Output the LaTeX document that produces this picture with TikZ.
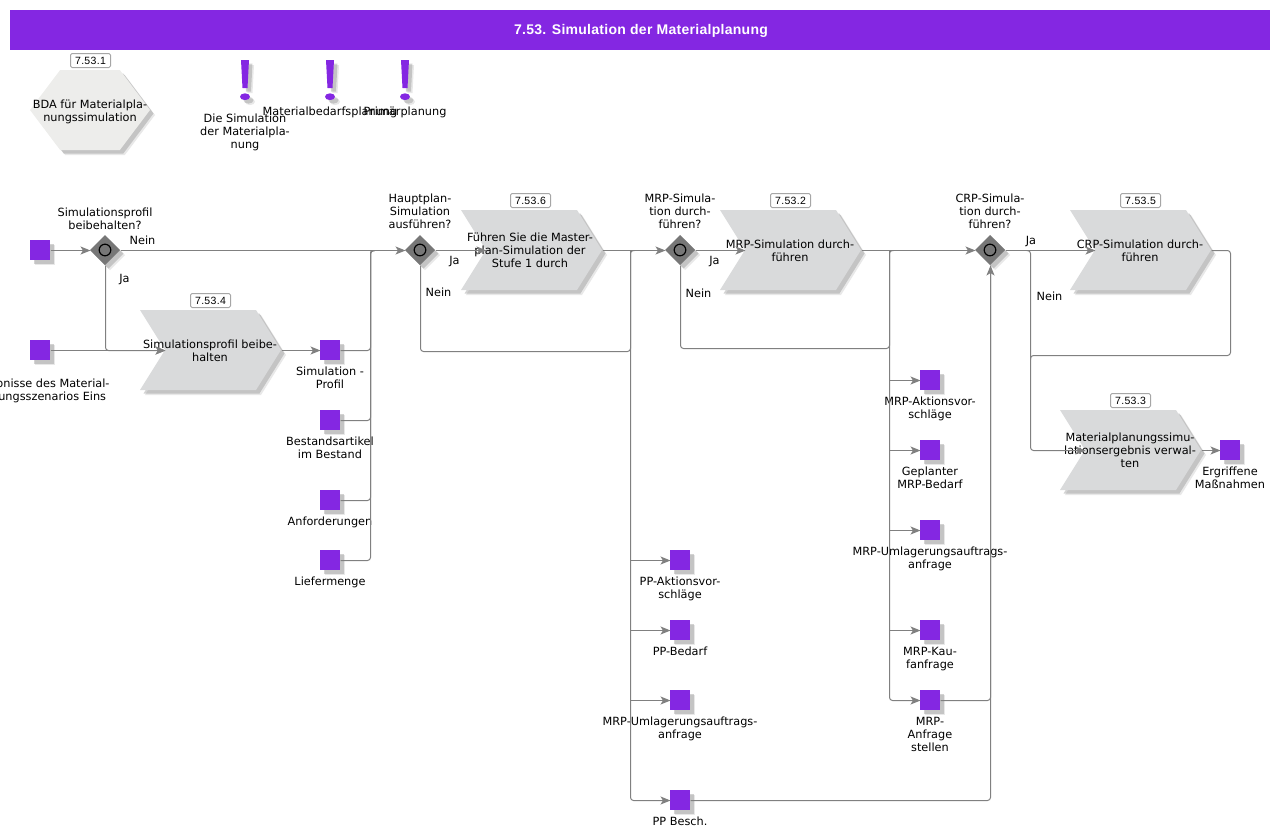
\documentclass[tikz,border=0pt]{standalone}
\usepackage{fontspec}
\setmainfont{DejaVu Sans}
\newfontfamily\tagfont[LetterSpace=3]{Liberation Sans}
\newfontfamily\titlefont[LetterSpace=2]{Liberation Sans}
\usepackage{xcolor}
\usetikzlibrary{arrows.meta,shapes.geometric,shapes.symbols,shadows}
\definecolor{lila}{HTML}{8427E2}
\definecolor{funcgray}{HTML}{D9DADB}
\definecolor{hexgray}{HTML}{EDEDEB}
\definecolor{gategray}{HTML}{777777}
\definecolor{wiregray}{HTML}{808080}
\tikzset{%
  tipA/.tip={Stealth[length=10pt,width=8pt,inset=2.5pt]},
  shad/.style={drop shadow={shadow xshift=5pt,shadow yshift=-5pt,fill=gray,opacity=.18},drop shadow={shadow xshift=3.5pt,shadow yshift=-3.5pt,fill=gray,opacity=.35}},
  txt/.style={font=\fontsize{11.3pt}{13pt}\selectfont,align=center,inner sep=0pt,outer sep=0pt},
  titlebar/.style={fill=lila,minimum width=1260pt,minimum height=40pt,inner sep=0pt},
  titletext/.style={text=white,inner sep=0pt,font=\titlefont\fontsize{14pt}{16pt}\selectfont\bfseries},
  func/.style={signal,signal from=west,signal to=east,signal pointer angle=116,fill=funcgray,minimum width=141pt,minimum height=80pt,inner sep=0pt,outer sep=0pt,shad},
  hexa/.style={signal,signal to=east and west,signal pointer angle=106,fill=hexgray,minimum width=120pt,minimum height=80pt,inner sep=0pt,outer sep=0pt,shad},
  evt/.style={fill=lila,minimum size=20pt,inner sep=0pt,outer sep=0pt,shad},
  gate/.style={diamond,fill=gategray,minimum size=30pt,inner sep=0pt,outer sep=0pt,shad,path picture={\draw[black,line width=1.2pt,fill=gategray] (path picture bounding box.center) circle (5.8pt);}},
  numtag/.style={draw=gray!70,line width=1pt,fill=white,rounded corners=1.5pt,minimum width=40pt,minimum height=14pt,inner sep=0pt,font=\tagfont\fontsize{10.5pt}{12pt}\selectfont},
  wire/.style={draw=wiregray,line width=1pt,rounded corners=3pt,transform canvas={xshift=.5pt,yshift=-.5pt}},
  awire/.style={wire,-tipA,color=wiregray},
  warnmark/.pic={\fill[lila,shad] (-4,0) -- (4,0) -- (2.5,28) -- (-2.5,28) -- cycle (0,36.7) ellipse [x radius=5pt,y radius=3.4pt];},
}

\begin{document}
\begin{tikzpicture}[x=1pt,y=-1pt]
\useasboundingbox (0,0) rectangle (1280,839);
\node[titlebar] (titel) at (640,30) {};
\node[titletext] (titeltext) at (641,30.5) {7.53. Simulation der Materialplanung};
\node[hexa] (hex) at (90,110) {};
\node[txt] (hextext) at (90,112) {BDA für Materialpla-\\nungssimulation};
\node[numtag] (tag1) at (90.5,60.5) {7.53.1};
\pic at (245,60) {warnmark};
\pic at (330,60) {warnmark};
\pic at (405,60) {warnmark};
\node[txt] (warnA) at (245,132) {Die Simulation\\der Materialpla-\\nung};
\node[txt] (warnB) at (330,112) {Materialbedarfsplanung};
\node[txt] (warnC) at (405,112) {Primärplanung};
\node[func] (f4) at (210.5,350) {};
\node[func] (f6) at (531.5,250) {};
\node[func] (f2) at (790.5,250) {};
\node[func] (f5) at (1140.5,250) {};
\node[func] (f3) at (1130.5,450) {};
\node[numtag] (tag4) at (210.5,300.5) {7.53.4};
\node[numtag] (tag6) at (530.5,200.5) {7.53.6};
\node[numtag] (tag2) at (790.5,200.5) {7.53.2};
\node[numtag] (tag5) at (1140.5,200.5) {7.53.5};
\node[numtag] (tag3) at (1130.5,400.5) {7.53.3};
\node[txt] (f4text) at (210,350.5) {Simulationsprofil beibe-\\halten};
\node[txt] (f6text) at (530,250.5) {Führen Sie die Master-\\plan-Simulation der\\Stufe 1 durch};
\node[txt] (f2text) at (790,250.5) {MRP-Simulation durch-\\führen};
\node[txt] (f5text) at (1140,250.5) {CRP-Simulation durch-\\führen};
\node[txt] (f3text) at (1130,450.5) {Materialplanungssimu-\\lationsergebnis verwal-\\ten};
\node[gate] (g1) at (105,250) {};
\node[gate] (g2) at (420,250) {};
\node[gate] (g3) at (680,250) {};
\node[gate] (g4) at (990,250) {};
\node[txt,anchor=south] (g1text) at (105,229.5) {Simulationsprofil\\beibehalten?};
\node[txt,anchor=south] (g2text) at (420,228.5) {Hauptplan-\\Simulation\\ausführen?};
\node[txt,anchor=south] (g3text) at (680,228.5) {MRP-Simula-\\tion durch-\\führen?};
\node[txt,anchor=south] (g4text) at (990,228.5) {CRP-Simula-\\tion durch-\\führen?};
\node[evt] (s1) at (40,250) {};
\node[evt,label={[txt,label distance=19pt]below:Ergebnisse des Material-\\planungsszenarios Eins}] (s2) at (40,350) {};
\node[evt,label={[txt,label distance=7pt]below:Simulation -\\Profil}] (p1) at (330,350) {};
\node[evt,label={[txt,label distance=7pt]below:Bestandsartikel\\im Bestand}] (p2) at (330,420) {};
\node[evt,label={[txt,label distance=7pt]below:Anforderungen}] (p3) at (330,500) {};
\node[evt,label={[txt,label distance=7pt]below:Liefermenge}] (p4) at (330,560) {};
\node[evt,label={[txt,label distance=7pt]below:PP-Aktionsvor-\\schläge}] (ppA) at (680,560) {};
\node[evt,label={[txt,label distance=7pt]below:PP-Bedarf}] (ppB) at (680,630) {};
\node[evt,label={[txt,label distance=7pt]below:MRP-Umlagerungsauftrags-\\anfrage}] (ppC) at (680,700) {};
\node[evt,label={[txt,label distance=7pt]below:PP Besch.}] (ppD) at (680,800) {};
\node[evt,label={[txt,label distance=7pt]below:MRP-Aktionsvor-\\schläge}] (mrpA) at (930,380) {};
\node[evt,label={[txt,label distance=7pt]below:Geplanter\\MRP-Bedarf}] (mrpB) at (930,450) {};
\node[evt,label={[txt,label distance=7pt]below:MRP-Umlagerungsauftrags-\\anfrage}] (mrpC) at (930,530) {};
\node[evt,label={[txt,label distance=7pt]below:MRP-Kau-\\fanfrage}] (mrpD) at (930,630) {};
\node[evt,label={[txt,label distance=7pt]below:MRP-\\Anfrage\\stellen}] (mrpE) at (930,700) {};
\node[evt,label={[txt,label distance=7pt]below:Ergriffene\\Maßnahmen}] (end) at (1230,450) {};
\node[txt] (neinA) at (142.5,240) {Nein};
\node[txt] (jaA) at (124.5,280) {Ja};
\node[txt] (jaB) at (454.5,262) {Ja};
\node[txt] (neinB) at (438.5,292) {Nein};
\node[txt] (jaC) at (714.5,262) {Ja};
\node[txt] (neinC) at (698.5,293) {Nein};
\node[txt] (jaD) at (1031,242) {Ja};
\node[txt] (neinD) at (1049.5,296) {Nein};
\coordinate (busA) at (370,250);
\coordinate (busB) at (630,250);
\coordinate (busC) at (889,250);
\coordinate (busD) at (1030,250);
\coordinate (backB) at (630,351);
\coordinate (backC) at (889,348);
\coordinate (backD) at (1030,355);
\draw[awire] (s1) -- (g1);
\draw[awire] (g1) -- (g2);
\draw[awire] (g1) |- (f4.west);
\draw[awire] (s2) -- (f4.west);
\draw[awire] (f4.east) -- (p1);
\draw[wire] (p1) -| (busA) -- +(4,0);
\draw[wire] (p2) -| (busA) -- +(4,0);
\draw[wire] (p3) -| (busA) -- +(4,0);
\draw[wire] (p4) -| (busA) -- +(4,0);
\draw[awire] (g2) -- (f6.west);
\draw[awire] (f6.east) -- (g3);
\draw[wire] (g2) |- (backB) -- (busB) -- +(4,0);
\draw[awire] (busB) |- (ppD);
\draw[awire] (busB |- ppA) -- (ppA);
\draw[awire] (busB |- ppB) -- (ppB);
\draw[awire] (busB |- ppC) -- (ppC);
\draw[awire] (g3) -- (f2.west);
\draw[awire] (f2.east) -- (g4);
\draw[wire] (g3) |- (backC) -- (busC) -- +(4,0);
\draw[awire] (busC) |- (mrpE);
\draw[awire] (busC |- mrpA) -- (mrpA);
\draw[awire] (busC |- mrpB) -- (mrpB);
\draw[awire] (busC |- mrpC) -- (mrpC);
\draw[awire] (busC |- mrpD) -- (mrpD);
\draw[wire] (mrpE) -| (g4);
\draw[awire] (ppD) -| (g4);
\draw[awire] (g4) -- (f5.west);
\draw[awire] (busD) ++(-4,0) -- ++(4,0) |- (f3.west);
\draw[awire] (f3.east) -- (end);
\draw[wire] (f5.east) -- (1230,250) |- (backD) -- +(0,4);
\end{tikzpicture}
\end{document}
